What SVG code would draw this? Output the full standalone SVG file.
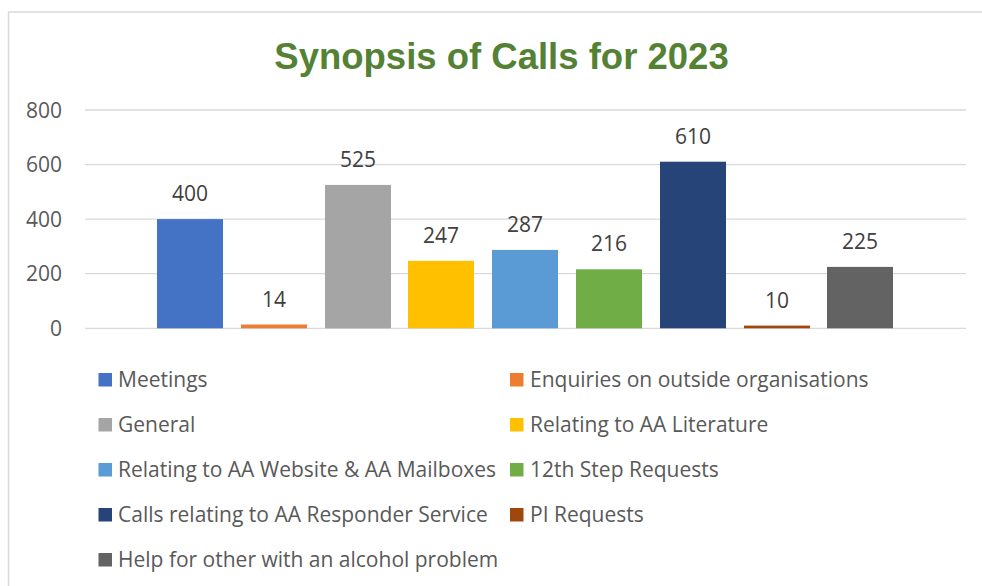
<svg xmlns="http://www.w3.org/2000/svg" width="982" height="586" viewBox="0 0 982 586">
<style>
.grid{stroke:#D9D9D9;stroke-width:1.3;fill:none}
.ax{font-family:"Open Sans","Liberation Sans",sans-serif;font-size:21px;fill:#595959;text-anchor:end}
.val{font-family:"Open Sans","Liberation Sans",sans-serif;font-size:21px;fill:#404040;text-anchor:middle}
.leg{font-family:"Open Sans","Liberation Sans",sans-serif;font-size:21px;fill:#595959}
.title{font-family:"Liberation Sans",Arial,sans-serif;font-size:36.5px;font-weight:bold;fill:#548235;text-anchor:middle}
</style>
<rect x="0" y="0" width="982" height="586" fill="#FFFFFF"/>
<path d="M8.5,586 V12 H982" fill="none" stroke="#D9D9D9" stroke-width="1.5"/>
<text class="title" x="501.5" y="69">Synopsis of Calls for 2023</text>
<g id="gridlines">
<line class="grid" x1="85" y1="110" x2="966" y2="110"/>
<line class="grid" x1="85" y1="164.6" x2="966" y2="164.6"/>
<line class="grid" x1="85" y1="219.2" x2="966" y2="219.2"/>
<line class="grid" x1="85" y1="273.7" x2="966" y2="273.7"/>
<line class="grid" x1="85" y1="328.3" x2="966" y2="328.3"/>
</g>
<g id="axis">
<text class="ax" x="62" y="117.5">800</text>
<text class="ax" x="62" y="172.1">600</text>
<text class="ax" x="62" y="226.7">400</text>
<text class="ax" x="62" y="281.2">200</text>
<text class="ax" x="62" y="335.8">0</text>
</g>
<g id="bar-meetings"><rect x="157" y="219.1" width="66" height="109.2" fill="#4472C4"/><text class="val" x="190" y="201">400</text></g>
<g id="bar-enquiries"><rect x="241" y="324.5" width="66" height="3.8" fill="#ED7D31"/><text class="val" x="274" y="306.5">14</text></g>
<g id="bar-general"><rect x="325" y="184.9" width="66" height="143.4" fill="#A5A5A5"/><text class="val" x="358" y="166.9">525</text></g>
<g id="bar-literature"><rect x="408" y="260.8" width="66" height="67.5" fill="#FFC000"/><text class="val" x="441" y="242.8">247</text></g>
<g id="bar-website"><rect x="492" y="249.9" width="66" height="78.4" fill="#5B9BD5"/><text class="val" x="525" y="231.9">287</text></g>
<g id="bar-12step"><rect x="576" y="269.3" width="66" height="59" fill="#70AD47"/><text class="val" x="609" y="251.3">216</text></g>
<g id="bar-responder"><rect x="660" y="161.7" width="66" height="166.6" fill="#264478"/><text class="val" x="693" y="143.7">610</text></g>
<g id="bar-pi"><rect x="744" y="325.6" width="66" height="2.7" fill="#9E480E"/><text class="val" x="777" y="307.6">10</text></g>
<g id="bar-help"><rect x="827" y="266.9" width="66" height="61.4" fill="#636363"/><text class="val" x="860" y="248.9">225</text></g>
<g id="legend">
<g id="leg-meetings"><rect x="98.5" y="373" width="13.5" height="13.5" fill="#4472C4"/><text class="leg" x="118" y="386.7">Meetings</text></g>
<g id="leg-enquiries"><rect x="510" y="373" width="13.5" height="13.5" fill="#ED7D31"/><text class="leg" x="530" y="386.7">Enquiries on outside organisations</text></g>
<g id="leg-general"><rect x="98.5" y="418" width="13.5" height="13.5" fill="#A5A5A5"/><text class="leg" x="118" y="431.7">General</text></g>
<g id="leg-literature"><rect x="510" y="418" width="13.5" height="13.5" fill="#FFC000"/><text class="leg" x="530" y="431.7">Relating to AA Literature</text></g>
<g id="leg-website"><rect x="98.5" y="463" width="13.5" height="13.5" fill="#5B9BD5"/><text class="leg" x="118" y="476.7">Relating to AA Website &amp; AA Mailboxes</text></g>
<g id="leg-12step"><rect x="510" y="463" width="13.5" height="13.5" fill="#70AD47"/><text class="leg" x="530" y="476.7">12th Step Requests</text></g>
<g id="leg-responder"><rect x="98.5" y="508" width="13.5" height="13.5" fill="#264478"/><text class="leg" x="118" y="521.7">Calls relating to AA Responder Service</text></g>
<g id="leg-pi"><rect x="510" y="508" width="13.5" height="13.5" fill="#9E480E"/><text class="leg" x="530" y="521.7">PI Requests</text></g>
<g id="leg-help"><rect x="98.5" y="553" width="13.5" height="13.5" fill="#636363"/><text class="leg" x="118" y="566.7">Help for other with an alcohol problem</text></g>
</g>
</svg>
